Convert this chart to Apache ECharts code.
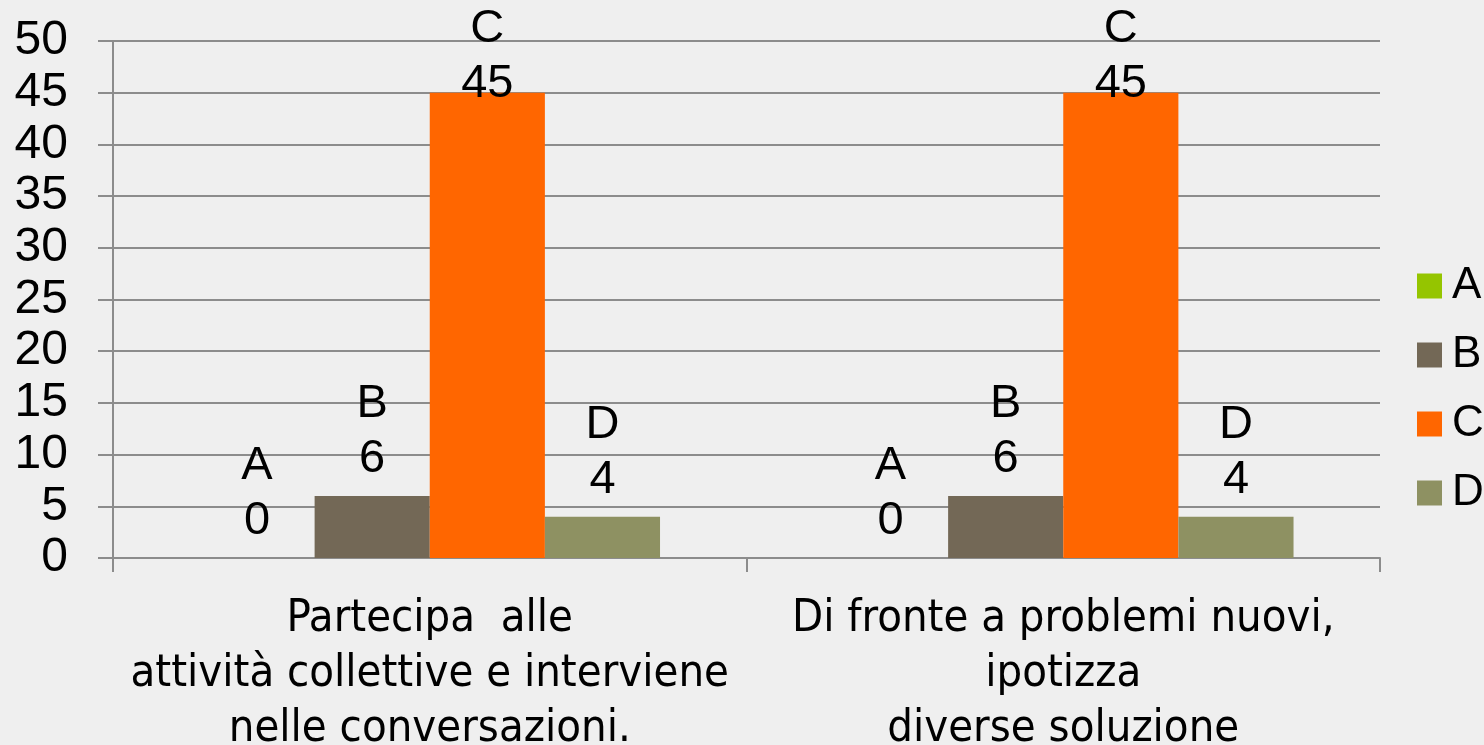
<!DOCTYPE html>
<html><head><meta charset="utf-8">
<script src="https://cdn.jsdelivr.net/npm/echarts@6/dist/echarts.min.js"></script>
<style>html,body{margin:0;padding:0;background:#efefef}#c{width:1484px;height:745px}</style>
</head><body><div id="c"></div>
<script>
const categories = ["Partecipa  alle\nattività collettive e interviene\nnelle conversazioni.", "Di fronte a problemi nuovi,\nipotizza\ndiverse soluzione"];
const seriesNames = ["A", "B", "C", "D"];
const valuesA = [0, 0];
const valuesB = [6, 6];
const valuesC = [45, 45];
const valuesD = [4, 4];
const yTicks = {min: 0, max: 50, interval: 5};

const colors = ["#95c500", "#736856", "#ff6600", "#8e9162"];
const allValues = [valuesA, valuesB, valuesC, valuesD];
const FONT = "'Liberation Sans', Arial, sans-serif";
const NARROW = "'Liberation Sans Narrow', 'DejaVu Sans Condensed', 'Liberation Sans', sans-serif";

const chart = echarts.init(document.getElementById('c'));
chart.setOption({
  backgroundColor: '#efefef',
  animation: false,
  grid: {left: 113, right: 104, top: 41, bottom: 187, containLabel: false, outerBoundsMode: 'none'},
  legend: {
    orient: 'vertical', left: 1412, top: 259,
    itemWidth: 25, itemHeight: 25, itemGap: 25,
    icon: 'rect',
    textStyle: {fontFamily: FONT, fontSize: 44, color: '#000', padding: [0, 0, 0, 5]},
    data: seriesNames
  },
  xAxis: {
    type: 'category', data: categories,
    axisLine: {lineStyle: {color: '#8c8c8c', width: 2}},
    axisTick: {show: true, length: 14, lineStyle: {color: '#8c8c8c', width: 2}},
    axisLabel: {fontFamily: NARROW, fontSize: 45, lineHeight: 55, color: '#000', margin: 34, interval: 0, align: 'center'}
  },
  yAxis: {
    type: 'value', min: yTicks.min, max: yTicks.max, interval: yTicks.interval,
    axisLine: {show: true, lineStyle: {color: '#8c8c8c', width: 2}},
    axisTick: {show: true, length: 15, lineStyle: {color: '#8c8c8c', width: 2}},
    splitLine: {show: true, lineStyle: {color: '#8c8c8c', width: 2}},
    axisLabel: {fontFamily: FONT, fontSize: 48, color: '#000', margin: 45}
  },
  series: seriesNames.map((n, i) => ({
    name: n, type: 'bar', data: allValues[i],
    barGap: '0%', barCategoryGap: '27.3%',
    itemStyle: {color: colors[i]},
    label: {
      show: true, position: 'top', distance: n === 'C' ? -19 : 9,
      formatter: '{a}\n{c}', fontFamily: FONT, fontSize: 47, lineHeight: 55, color: '#000'
    }
  }))
});
</script></body></html>
